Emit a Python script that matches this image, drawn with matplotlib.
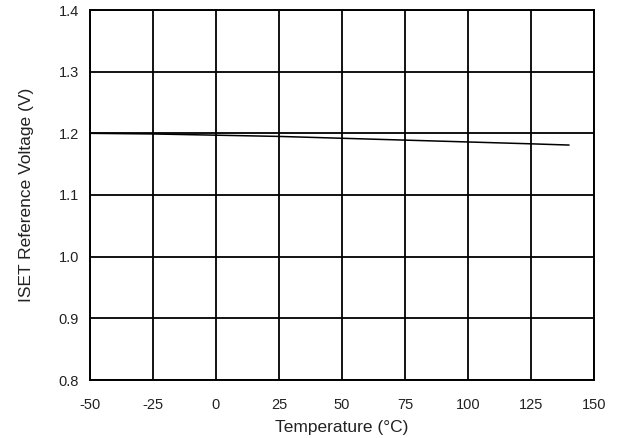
import matplotlib
matplotlib.use("Agg")
import matplotlib.pyplot as plt

temps = [-50, -25, 0, 25, 50, 75, 100, 125, 140]
vref = [1.200, 1.199, 1.197, 1.195, 1.192, 1.189, 1.186, 1.183, 1.181]

xticks = [-50, -25, 0, 25, 50, 75, 100, 125, 150]
yticks = [0.8, 0.9, 1.0, 1.1, 1.2, 1.3, 1.4]
ytick_labels = ["0.8", "0.9", "1.0", "1.1", "1.2", "1.3", "1.4"]

plt.rcParams['font.family'] = ['Liberation Sans', 'DejaVu Sans']

fig = plt.figure(figsize=(6.21, 4.38), dpi=100)
ax = fig.add_axes([90/621, 1 - 380/438, (594-90)/621, (380-10)/438])

ax.plot(temps, vref, color='black', lw=1.1, zorder=3)

ax.set_xlim(-50, 150)
ax.set_ylim(0.8, 1.4)
ax.set_xticks(xticks)
ax.set_xticklabels([str(t) for t in xticks])
ax.set_yticks(yticks)
ax.set_yticklabels(ytick_labels)
ax.grid(True, color='black', lw=1.3)
ax.set_axisbelow(True)
ax.tick_params(length=0, labelsize=10.5, colors='#222222')
ax.tick_params(axis='y', pad=8)
ax.tick_params(axis='x', pad=13)
for s in ax.spines.values():
    s.set_linewidth(1.4)
    s.set_color('black')

ax.set_xlabel('Temperature (°C)', fontsize=12.5, color='#222222', labelpad=6)
ax.set_ylabel('ISET Reference Voltage (V)', fontsize=12.5, color='#222222', labelpad=18)

fig.savefig('out.png', dpi=100)
